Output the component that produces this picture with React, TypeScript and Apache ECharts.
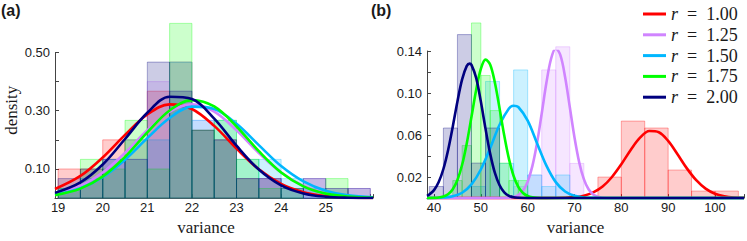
import React, { useEffect, useRef } from 'react';
import * as echarts from 'echarts';

// ---------- shared ----------
const seriesNames = ['r = 1.00', 'r = 1.25', 'r = 1.50', 'r = 1.75', 'r = 2.00'];
const legendValues = ['1.00', '1.25', '1.50', '1.75', '2.00'];
const colors = ['#FF0000', '#D084FF', '#00B7FF', '#00FF00', '#00007F'];

// ---------- panel (a) ----------
const aBinStarts = [19, 19.5, 20, 20.5, 21, 21.5, 22, 22.5, 23, 23.5, 24, 24.5, 25, 25.5];
const aBinWidth = 0.5;
const aHistRed = [0.1, 0.1, 0.2, 0.2, 0.367, 0.467, 0.233, 0.2, 0.067, 0.067, 0, 0, 0, 0];
const aHistViolet = [0.033, 0.067, 0.133, 0.133, 0.4, 0.467, 0.267, 0.2, 0.067, 0.067, 0.033, 0.067, 0.033, 0.033];
const aHistCyan = [0.033, 0.067, 0.133, 0.2, 0.2, 0.467, 0.267, 0.267, 0.133, 0.133, 0.067, 0.033, 0, 0];
const aHistGreen = [0.033, 0.133, 0.1, 0.267, 0.1, 0.6, 0.233, 0.267, 0.133, 0.033, 0.033, 0, 0.067, 0];
const aHistNavy = [0.067, 0.1, 0.133, 0.133, 0.467, 0.367, 0.233, 0.2, 0.067, 0.067, 0.033, 0.067, 0.033, 0.033];

const aCurveX = [18.93, 19.5, 20, 20.5, 21, 21.5, 22, 22.5, 23, 23.5, 24, 24.5, 25, 25.5, 26.06];
const aCurveRed = [0.0312, 0.0761, 0.1396, 0.217, 0.287, 0.322, 0.306, 0.248, 0.17, 0.099, 0.0489, 0.0205, 0.0073, 0.0022, 0.0005];
const aCurveViolet = [0.015, 0.0422, 0.0877, 0.155, 0.233, 0.297, 0.322, 0.297, 0.233, 0.155, 0.0877, 0.0422, 0.0173, 0.006, 0.0016];
const aCurveCyan = [0.0116, 0.0336, 0.072, 0.132, 0.206, 0.275, 0.314, 0.306, 0.255, 0.182, 0.11, 0.0573, 0.0255, 0.0096, 0.0028];
const aCurveGreen = [0.0102, 0.0326, 0.0741, 0.1415, 0.226, 0.301, 0.3366, 0.3146, 0.246, 0.161, 0.088, 0.0403, 0.0154, 0.005, 0.0012];
const aCurveNavy = [0.0179, 0.054, 0.1153, 0.203, 0.293, 0.348, 0.34, 0.273, 0.18, 0.098, 0.0437, 0.016, 0.0048, 0.0012, 0.0002];

// ---------- panel (b) ----------
const bRedStarts = [75, 80, 85, 90, 95, 100];
const bRedWidth = 5;
const bRedHist = [0.02, 0.0733, 0.0667, 0.0267, 0.0067, 0.0067];
const bVioletStarts = [57, 60, 63, 66, 69];
const bVioletWidth = 3;
const bVioletHist = [0.011, 0.022, 0.122, 0.144, 0.033];
const bCyanStarts = [48, 51, 54, 57, 60, 63, 66];
const bCyanWidth = 3;
const bCyanHist = [0.011, 0.111, 0.033, 0.122, 0.022, 0.011, 0.022];
const bGreenStarts = [44, 46, 48, 50, 52, 54, 56, 58];
const bGreenWidth = 2;
const bGreenHist = [0.0167, 0.05, 0.1667, 0.1167, 0.0833, 0.0333, 0.0167, 0.0167];
const bNavyStarts = [39, 42, 45, 48, 51];
const bNavyWidth = 3;
const bNavyHist = [0.011, 0.0667, 0.1556, 0.0333, 0.0667];

const bRedCurveX = [38.5, 62, 66, 68, 70, 72, 74, 76, 78, 80, 82, 84, 86, 88, 90, 92, 94, 96, 98, 100, 102, 104, 106.2];
const bRedCurveY = [0, 0, 0.0001, 0.0003, 0.0009, 0.0023, 0.0054, 0.011, 0.0201, 0.0322, 0.0458, 0.0575, 0.0638, 0.0627, 0.0544, 0.0417, 0.0283, 0.017, 0.009, 0.0042, 0.0018, 0.0006, 0.0002];
const bVioletCurveX = [38.5, 54, 56, 57, 58, 59, 60, 61, 62, 63, 64, 65, 66, 67, 68, 69, 70, 71, 72, 73, 74, 75, 76, 78, 106.2];
const bVioletCurveY = [0, 0, 0.0003, 0.001, 0.0029, 0.0071, 0.0156, 0.0304, 0.0524, 0.0805, 0.1097, 0.1326, 0.1424, 0.1358, 0.115, 0.0864, 0.0577, 0.0342, 0.018, 0.0084, 0.0035, 0.0013, 0.0004, 0, 0];
const bCyanCurveX = [38.5, 40, 42, 44, 46, 48, 50, 52, 54, 56, 57, 58, 60, 62, 64, 66, 68, 70, 72, 74, 76, 106.2];
const bCyanCurveY = [0, 0.0001, 0.0005, 0.0017, 0.0051, 0.013, 0.0272, 0.0477, 0.0698, 0.0852, 0.0879, 0.0867, 0.0737, 0.0522, 0.0309, 0.0152, 0.0063, 0.0022, 0.0006, 0.0002, 0, 0];
const bGreenCurveX = [38.5, 40, 41, 42, 43, 44, 45, 46, 47, 48, 49, 50, 51, 52, 53, 54, 55, 56, 57, 58, 59, 60, 61, 62, 64, 106.2];
const bGreenCurveY = [0, 0.0002, 0.0005, 0.0015, 0.0037, 0.0085, 0.0173, 0.0317, 0.0523, 0.0774, 0.103, 0.1229, 0.1318, 0.127, 0.1098, 0.0853, 0.0595, 0.0373, 0.021, 0.0106, 0.0048, 0.002, 0.0007, 0.0002, 0, 0];
const bNavyCurveX = [38.5, 39, 40, 41, 42, 43, 44, 45, 46, 47, 47.6, 48, 49, 50, 51, 52, 53, 54, 55, 56, 57, 58, 60, 106.2];
const bNavyCurveY = [0.0021, 0.0035, 0.0076, 0.0153, 0.0277, 0.0456, 0.068, 0.092, 0.113, 0.1258, 0.128, 0.1268, 0.1144, 0.0919, 0.0659, 0.0421, 0.0239, 0.0122, 0.0055, 0.0022, 0.0008, 0.0003, 0, 0];

const FONT_SANS = 'Liberation Sans';
const FONT_SERIF = 'Liberation Serif';
const AXIS_COLOR = '#444';
const TEXT_COLOR = '#1a1a1a';

function rgba(hex: string, a: number) {
  const n = parseInt(hex.slice(1), 16);
  return `rgba(${(n >> 16) & 255},${(n >> 8) & 255},${n & 255},${a})`;
}

function histSeries(idx: number, starts: number[], width: number, values: number[], color: string, key: string) {
  const data: number[][] = [];
  starts.forEach((s, i) => {
    if (values[i] > 0) data.push([s, s + width, values[i]]);
  });
  return {
    type: 'custom',
    name: key,
    xAxisIndex: idx,
    yAxisIndex: idx,
    clip: false,
    silent: true,
    z: 2,
    data,
    encode: { x: [0, 1], y: 2 },
    renderItem: (_p: any, api: any) => {
      const a = api.coord([api.value(0), api.value(2)]);
      const b = api.coord([api.value(1), 0]);
      return {
        type: 'rect',
        shape: { x: a[0], y: a[1], width: b[0] - a[0], height: b[1] - a[1] },
        style: { fill: rgba(color, 0.2), stroke: rgba(color, 0.32), lineWidth: 1 },
      };
    },
  };
}

function curveSeries(idx: number, xs: number[], ys: number[], k: number) {
  return {
    type: 'line',
    name: seriesNames[k],
    xAxisIndex: idx,
    yAxisIndex: idx,
    data: xs.map((x, i) => [x, ys[i]]),
    smooth: 0.35,
    symbol: 'none',
    showSymbol: false,
    silent: true,
    z: 3,
    color: colors[k],
    itemStyle: { color: colors[k] },
    lineStyle: { color: colors[k], width: 2.6 },
  };
}

function xAxisCommon() {
  return {
    type: 'value',
    axisLine: { show: true, onZero: false, lineStyle: { color: AXIS_COLOR, width: 1 } },
    axisTick: { show: true, inside: true, length: 4, lineStyle: { color: AXIS_COLOR } },
    splitLine: { show: false },
    nameLocation: 'middle',
    nameGap: 15,
  };
}

export default function App() {
  const ref = useRef<HTMLDivElement>(null);
  useEffect(() => {
    if (!ref.current) return;
    const chart = echarts.init(ref.current, undefined, { renderer: 'svg' });
    const labelStyle = { fontFamily: FONT_SANS, fontSize: 13, color: TEXT_COLOR };
    const nameStyle = { fontFamily: FONT_SERIF, fontSize: 17, color: TEXT_COLOR };
    const legendText = { fontFamily: FONT_SERIF, fontSize: 18, lineHeight: 18, color: TEXT_COLOR };
    const option: any = {
      animation: false,
      textStyle: { fontFamily: FONT_SERIF },
      title: [
        { text: '(a)', left: 1, top: 2, padding: 0, textStyle: { fontFamily: FONT_SANS, fontWeight: 'bold', fontSize: 16, color: TEXT_COLOR } },
        { text: '(b)', left: 371, top: 2, padding: 0, textStyle: { fontFamily: FONT_SANS, fontWeight: 'bold', fontSize: 16, color: TEXT_COLOR } },
      ],
      legend: {
        data: seriesNames,
        orient: 'vertical',
        left: 643,
        top: 5,
        padding: 0,
        itemWidth: 23,
        itemHeight: 3,
        itemGap: 2.8,
        icon: 'rect',
        selectedMode: false,
        formatter: (name: string) => `{i|r}{t|\u2002=\u2002${legendValues[seriesNames.indexOf(name)]}}`,
        textStyle: {
          ...legendText,
          rich: {
            i: { ...legendText, fontStyle: 'italic' },
            t: { ...legendText },
          },
        },
      },
      grid: [
        { left: 55, top: 52.5, width: 318, height: 153.5 },
        { left: 427, top: 51, width: 320, height: 155 },
      ],
      xAxis: [
        {
          ...xAxisCommon(),
          gridIndex: 0,
          min: 18.93,
          max: 26.06,
          axisLabel: {
            ...labelStyle,
            margin: 3,
            formatter: (v: number) => (Math.abs(v - Math.round(v)) < 1e-6 && v >= 19 && v <= 25 ? String(Math.round(v)) : ''),
          },
          name: 'variance',
          nameTextStyle: { ...nameStyle, padding: [0, 16, 0, 0] },
        },
        {
          ...xAxisCommon(),
          gridIndex: 1,
          min: 38.5,
          max: 106.2,
          axisLabel: {
            ...labelStyle,
            margin: 3,
            formatter: (v: number) => (Math.abs(v / 10 - Math.round(v / 10)) < 1e-6 && v >= 40 && v <= 100 ? String(Math.round(v)) : ''),
          },
          name: 'variance',
          nameTextStyle: { ...nameStyle, padding: [0, 20, 0, 0] },
        },
      ],
      yAxis: [
        {
          type: 'value',
          gridIndex: 0,
          min: 0,
          max: 0.5,
          interval: 0.1,
          axisLine: { show: true, onZero: false, lineStyle: { color: AXIS_COLOR, width: 1 } },
          axisTick: { show: true, inside: true, length: 4, lineStyle: { color: AXIS_COLOR } },
          splitLine: { show: false },
          axisLabel: {
            ...labelStyle,
            margin: 5,
            formatter: (v: number) => (Math.round(v * 10) % 2 === 1 ? v.toFixed(2) : ''),
          },
          name: 'density',
          nameLocation: 'middle',
          nameRotate: 90,
          nameGap: 35,
          nameTextStyle: { ...nameStyle, padding: [0, 0, 0, 30] },
        },
        {
          type: 'value',
          gridIndex: 1,
          min: 0,
          max: 0.14,
          interval: 0.02,
          axisLine: { show: true, onZero: false, lineStyle: { color: AXIS_COLOR, width: 1 } },
          axisTick: { show: true, inside: true, length: 4, lineStyle: { color: AXIS_COLOR } },
          splitLine: { show: false },
          axisLabel: {
            ...labelStyle,
            margin: 5,
            formatter: (v: number) => (Math.round(v * 100) % 4 === 2 ? v.toFixed(2) : ''),
          },
        },
      ],
      series: [
        histSeries(0, aBinStarts, aBinWidth, aHistRed, colors[0], 'ha0'),
        histSeries(0, aBinStarts, aBinWidth, aHistViolet, colors[1], 'ha1'),
        histSeries(0, aBinStarts, aBinWidth, aHistCyan, colors[2], 'ha2'),
        histSeries(0, aBinStarts, aBinWidth, aHistGreen, colors[3], 'ha3'),
        histSeries(0, aBinStarts, aBinWidth, aHistNavy, colors[4], 'ha4'),
        curveSeries(0, aCurveX, aCurveRed, 0),
        curveSeries(0, aCurveX, aCurveViolet, 1),
        curveSeries(0, aCurveX, aCurveCyan, 2),
        curveSeries(0, aCurveX, aCurveGreen, 3),
        curveSeries(0, aCurveX, aCurveNavy, 4),
        histSeries(1, bRedStarts, bRedWidth, bRedHist, colors[0], 'hb0'),
        histSeries(1, bVioletStarts, bVioletWidth, bVioletHist, colors[1], 'hb1'),
        histSeries(1, bCyanStarts, bCyanWidth, bCyanHist, colors[2], 'hb2'),
        histSeries(1, bGreenStarts, bGreenWidth, bGreenHist, colors[3], 'hb3'),
        histSeries(1, bNavyStarts, bNavyWidth, bNavyHist, colors[4], 'hb4'),
        curveSeries(1, bRedCurveX, bRedCurveY, 0),
        curveSeries(1, bVioletCurveX, bVioletCurveY, 1),
        curveSeries(1, bCyanCurveX, bCyanCurveY, 2),
        curveSeries(1, bGreenCurveX, bGreenCurveY, 3),
        curveSeries(1, bNavyCurveX, bNavyCurveY, 4),
      ],
    };
    chart.setOption(option);
    return () => chart.dispose();
  }, []);
  return <div ref={ref} style={{ position: 'absolute', left: 0, top: 0, width: 747, height: 241 }} />;
}
